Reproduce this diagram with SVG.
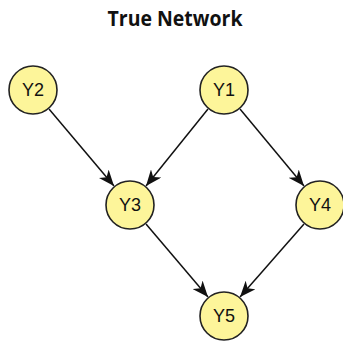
<svg xmlns="http://www.w3.org/2000/svg" width="343" height="345" viewBox="0 0 343 345">
<style>
.node circle{fill:#fdf59a;stroke:#222;stroke-width:1.6}
.node text{font-family:"Liberation Sans",Arial,sans-serif;font-size:18px;fill:#111;text-anchor:middle;dominant-baseline:central}
.edge{stroke:#111;stroke-width:1.5;fill:none;marker-end:url(#arr)}
.title{font-family:"Open Sans","DejaVu Sans",sans-serif;font-weight:bold;font-size:21px;text-anchor:middle;fill:#111}
</style>
<defs>
<marker id="arr" viewBox="0 0 16 13" refX="16" refY="6.5" markerWidth="16" markerHeight="13" markerUnits="userSpaceOnUse" orient="auto">
<path d="M0,0 L16,6.5 L0,13 L4.5,6.5 Z" fill="#111"/>
</marker>
</defs>
<rect width="343" height="345" fill="#fff"/>
<text class="title" x="175" y="26" textLength="135" lengthAdjust="spacingAndGlyphs">True Network</text>
<g id="edges">
<line class="edge" x1="49" y1="109" x2="114" y2="186"/>
<line class="edge" x1="208" y1="109" x2="146" y2="186"/>
<line class="edge" x1="240" y1="109" x2="304" y2="186"/>
<line class="edge" x1="146" y1="224" x2="208" y2="297"/>
<line class="edge" x1="304" y1="224" x2="240" y2="297"/>
</g>
<g id="Y2" class="node"><circle cx="33" cy="90" r="24"/><text x="33" y="90">Y2</text></g>
<g id="Y1" class="node"><circle cx="224" cy="90" r="24"/><text x="224" y="90">Y1</text></g>
<g id="Y3" class="node"><circle cx="130" cy="205" r="24"/><text x="130" y="205">Y3</text></g>
<g id="Y4" class="node"><circle cx="320" cy="205" r="24"/><text x="320" y="205">Y4</text></g>
<g id="Y5" class="node"><circle cx="224" cy="316" r="24"/><text x="224" y="316">Y5</text></g>
</svg>
